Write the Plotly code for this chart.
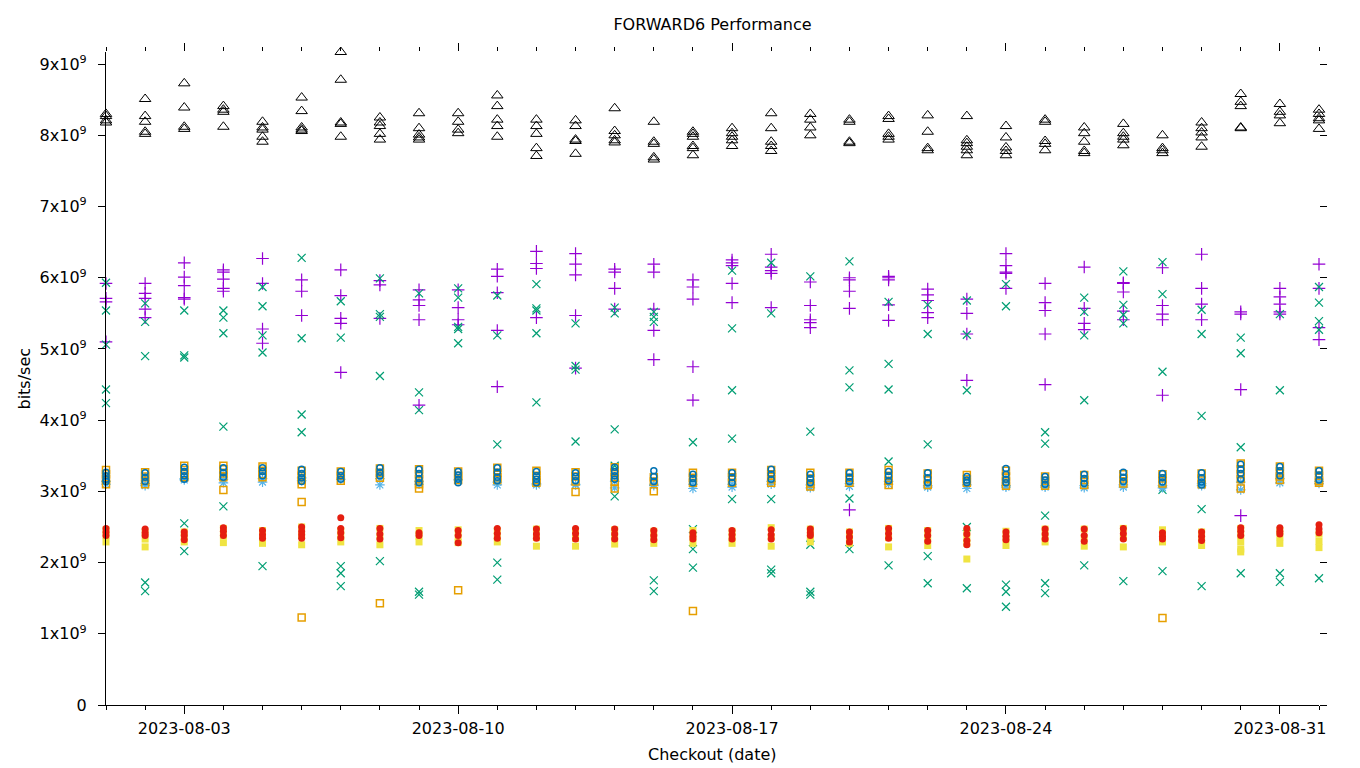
import plotly.graph_objects as go
import pandas as pd

# ---------------- data (values in units of 1e9 bits/sec) ----------------
dates = [d.strftime("%Y-%m-%d") for d in pd.date_range("2023-08-01", "2023-09-01", freq="D")]

purple_plus = [
    [5.92, 5.71, 5.66, 5.10], [5.92, 5.78, 5.71, 5.56, 5.44], [6.21, 6.01, 5.89, 5.72, 5.70],
    [6.11, 6.08, 5.98, 5.85, 5.81], [6.27, 5.92, 5.28, 5.08], [5.97, 5.81, 5.47],
    [6.11, 5.75, 5.43, 5.36, 4.67], [5.96, 5.90, 5.43], [5.83, 5.69, 5.61, 5.41, 4.21],
    [5.83, 5.58, 5.41, 5.34], [6.12, 6.02, 5.79, 5.26, 4.47], [6.37, 6.20, 6.13, 5.44],
    [6.34, 6.19, 6.04, 5.47, 4.73], [6.12, 6.08, 5.85, 5.56], [6.19, 6.08, 5.56, 5.26, 4.85],
    [5.97, 5.87, 5.70, 4.75, 4.28], [6.25, 6.21, 6.17, 5.92, 5.65], [6.33, 6.15, 6.10, 6.06, 5.58],
    [5.94, 5.61, 5.41, 5.37, 5.30], [6.00, 5.97, 5.81, 5.57, 2.74], [6.02, 6.00, 5.97, 5.62, 5.40],
    [5.84, 5.76, 5.68, 5.51, 5.44], [5.70, 5.50, 5.21, 4.56], [6.34, 6.17, 6.08, 6.06, 5.85],
    [5.92, 5.65, 5.54, 5.21, 4.50], [6.15, 5.57, 5.36, 5.27], [5.93, 5.92, 5.80, 5.53, 5.41],
    [6.14, 5.61, 5.49, 5.41, 4.35], [6.33, 5.85, 5.63, 5.41], [5.52, 5.49, 4.43, 2.66],
    [5.85, 5.73, 5.63, 5.52, 5.49], [6.19, 5.85, 5.30, 5.13],
]

teal_x = [
    [5.93, 5.54, 5.06, 4.43, 4.24], [5.64, 5.38, 4.90, 1.72, 1.60], [5.54, 4.91, 4.88, 2.55, 2.16],
    [5.54, 5.44, 5.22, 3.91, 2.79], [5.87, 5.60, 5.19, 4.95, 1.95], [6.28, 5.15, 4.08, 3.83],
    [5.67, 5.16, 1.95, 1.85, 1.67], [5.99, 5.49, 5.45, 4.62, 2.02], [5.78, 4.39, 4.14, 1.59, 1.55],
    [5.85, 5.72, 5.31, 5.28, 5.08], [5.75, 5.19, 3.66, 2.00, 1.76], [5.91, 5.57, 5.54, 5.22, 4.25],
    [5.36, 4.76, 4.71, 3.70], [5.58, 5.50, 3.87, 3.36, 2.93], [5.52, 5.45, 5.38, 1.75, 1.60],
    [3.69, 2.47, 2.19, 1.93], [6.10, 5.29, 4.42, 3.74, 2.89], [6.21, 5.50, 2.89, 1.90, 1.85],
    [6.02, 3.84, 2.25, 1.59, 1.55], [6.23, 4.70, 4.46, 2.90, 2.19], [5.66, 4.79, 4.43, 3.42, 1.96],
    [5.62, 5.21, 3.66, 2.09, 1.71], [5.68, 5.20, 4.42, 2.50, 1.64], [5.91, 5.60, 1.69, 1.59, 1.38],
    [3.83, 3.67, 2.66, 1.71, 1.57], [5.72, 5.52, 5.19, 4.28, 1.96], [6.09, 5.62, 5.48, 5.36, 1.74],
    [6.22, 5.77, 4.68, 3.02, 1.88], [5.55, 5.21, 4.06, 2.75, 1.67], [5.16, 4.94, 3.62, 1.85],
    [5.49, 4.42, 1.85, 1.73], [5.87, 5.65, 5.39, 5.27, 1.78],
]

lightblue_star = [
    [3.14, 3.10], [3.11, 3.08], [3.18, 3.16], [3.17, 3.12], [3.18, 3.13], [3.19, 3.15], [3.17],
    [3.18, 3.09], [3.14, 3.10], [3.16], [3.13, 3.09], [3.11, 3.09], [3.10, 3.09], [3.14, 3.05],
    [3.10, 3.08], [3.10, 3.04], [3.10, 3.06], [3.14, 3.10], [3.09, 3.05], [3.11, 3.07],
    [3.14, 3.10], [3.08, 3.06], [3.09, 3.04], [3.08, 3.06], [3.08, 3.06], [3.08, 3.05],
    [3.09, 3.06], [3.08, 3.05], [3.11, 3.08], [3.13, 3.02], [3.18, 3.12], [3.14, 3.11],
]

orange_square = [
    [3.30, 3.24, 3.17, 3.10], [3.27, 3.21, 3.15, 3.10], [3.36, 3.30, 3.24, 3.20],
    [3.36, 3.31, 3.25, 3.20, 3.02], [3.35, 3.29, 3.24, 3.20], [3.29, 3.22, 3.16, 3.10, 2.85, 1.23],
    [3.28, 3.22, 3.15], [3.32, 3.26, 3.19, 1.43], [3.31, 3.24, 3.17, 3.10, 3.04],
    [3.28, 3.22, 3.16, 1.61], [3.33, 3.26, 3.20, 3.16], [3.29, 3.22, 3.16, 3.12],
    [3.27, 3.21, 3.14, 2.99], [3.34, 3.27, 3.20, 3.13, 3.04], [3.20, 3.14, 3.00],
    [3.26, 3.19, 3.12, 1.32], [3.26, 3.20, 3.12], [3.30, 3.24, 3.17, 3.12],
    [3.26, 3.18, 3.11, 3.07], [3.26, 3.19, 3.12], [3.30, 3.22, 3.15, 3.09],
    [3.25, 3.17, 3.09], [3.23, 3.17, 3.12], [3.29, 3.21, 3.14, 3.08], [3.21, 3.15, 3.08],
    [3.23, 3.16, 3.09], [3.24, 3.18, 3.11], [3.24, 3.18, 3.11, 1.22], [3.25, 3.18, 3.10],
    [3.39, 3.31, 3.24, 3.17, 3.04], [3.35, 3.28, 3.21, 3.16], [3.29, 3.22, 3.15, 3.12],
]

yellow_square = [
    [2.46, 2.38, 2.29], [2.43, 2.33, 2.22], [2.43, 2.36, 2.29], [2.48, 2.38, 2.28],
    [2.45, 2.36, 2.27], [2.50, 2.38, 2.25], [2.45, 2.37, 2.29], [2.48, 2.37, 2.25],
    [2.45, 2.37, 2.29], [2.46, 2.36, 2.28], [2.45, 2.37, 2.29], [2.47, 2.35, 2.23],
    [2.45, 2.34, 2.23], [2.46, 2.36, 2.26], [2.44, 2.35, 2.27], [2.45, 2.36, 2.27],
    [2.44, 2.35, 2.27], [2.49, 2.36, 2.23], [2.47, 2.37, 2.29], [2.43, 2.35, 2.27],
    [2.48, 2.35, 2.22], [2.45, 2.35, 2.24], [2.43, 2.34, 2.27, 2.05], [2.44, 2.34, 2.24],
    [2.47, 2.37, 2.29], [2.47, 2.35, 2.23], [2.48, 2.35, 2.22], [2.46, 2.37, 2.29],
    [2.43, 2.33, 2.24], [2.48, 2.38, 2.29, 2.19, 2.15], [2.45, 2.36, 2.27], [2.40, 2.30, 2.21],
]

blue_circle = [
    [3.27, 3.22, 3.17, 3.14], [3.26, 3.20, 3.14], [3.34, 3.28, 3.22, 3.17], [3.33, 3.26, 3.20],
    [3.33, 3.28, 3.22], [3.31, 3.25, 3.19, 3.14], [3.28, 3.22, 3.17], [3.33, 3.27, 3.22],
    [3.31, 3.25, 3.18, 3.12], [3.28, 3.23, 3.17, 3.12], [3.33, 3.27, 3.20, 3.15],
    [3.28, 3.22, 3.17, 3.12], [3.26, 3.21, 3.15], [3.34, 3.28, 3.22, 3.17], [3.29, 3.21, 3.14],
    [3.24, 3.18, 3.12], [3.26, 3.20, 3.12], [3.31, 3.24, 3.17], [3.24, 3.18, 3.12],
    [3.26, 3.20, 3.14], [3.28, 3.22, 3.15], [3.26, 3.19, 3.12], [3.21, 3.16, 3.12],
    [3.32, 3.24, 3.17, 3.12], [3.21, 3.16, 3.10], [3.24, 3.18, 3.11], [3.27, 3.20, 3.14],
    [3.25, 3.19, 3.13], [3.26, 3.19, 3.13, 3.09], [3.38, 3.31, 3.25, 3.17], [3.35, 3.29, 3.22],
    [3.29, 3.23, 3.16],
]

red_circle = [
    [2.48, 2.43, 2.38], [2.47, 2.42, 2.38], [2.43, 2.38, 2.32], [2.49, 2.44, 2.38],
    [2.45, 2.39, 2.34], [2.50, 2.44, 2.39, 2.34], [2.63, 2.48, 2.42, 2.35], [2.48, 2.40, 2.33],
    [2.42, 2.38], [2.45, 2.38, 2.28], [2.48, 2.41, 2.34], [2.47, 2.40, 2.34], [2.48, 2.41, 2.33],
    [2.47, 2.40, 2.33], [2.45, 2.38, 2.32], [2.42, 2.37, 2.33], [2.45, 2.39, 2.33],
    [2.46, 2.39, 2.33], [2.47, 2.42, 2.38], [2.43, 2.36, 2.29], [2.48, 2.41, 2.34],
    [2.45, 2.38, 2.30], [2.48, 2.40, 2.31, 2.25], [2.43, 2.37, 2.32], [2.47, 2.40, 2.33],
    [2.47, 2.38, 2.30], [2.48, 2.41, 2.33], [2.42, 2.37, 2.33], [2.43, 2.37, 2.31],
    [2.49, 2.44, 2.38], [2.49, 2.44, 2.40], [2.53, 2.47, 2.42],
]

black_triangle = [
    [8.30, 8.27, 8.21, 8.18], [8.51, 8.27, 8.19, 8.05, 8.02], [8.73, 8.39, 8.12, 8.09],
    [8.41, 8.36, 8.33, 8.12], [8.19, 8.11, 8.08, 7.98, 7.91], [8.53, 8.34, 8.11, 8.08, 8.06],
    [9.17, 8.78, 8.18, 8.16, 7.98], [8.25, 8.18, 8.13, 8.02, 7.94], [8.31, 8.10, 8.01, 7.97, 7.94],
    [8.31, 8.19, 8.08, 8.03], [8.56, 8.41, 8.22, 8.13, 7.98], [8.22, 8.13, 8.02, 7.82, 7.71],
    [8.21, 8.13, 7.94, 7.92, 7.74], [8.38, 8.06, 8.00, 7.93, 7.90], [8.19, 7.91, 7.88, 7.69, 7.66],
    [8.05, 8.02, 7.98, 7.85, 7.82, 7.72], [8.10, 8.03, 7.98, 7.93, 7.85],
    [8.31, 8.10, 7.91, 7.85, 7.78], [8.30, 8.22, 8.11, 8.00], [8.22, 8.19, 7.91, 7.89],
    [8.27, 8.23, 8.02, 7.98, 7.94], [8.28, 8.05, 7.82, 7.79],
    [8.27, 7.93, 7.89, 7.84, 7.79, 7.72], [8.13, 7.97, 7.83, 7.78, 7.72],
    [8.22, 8.19, 7.92, 7.88, 7.79], [8.11, 8.03, 7.91, 7.78, 7.75], [8.16, 8.03, 7.98, 7.94, 7.86],
    [8.00, 7.82, 7.79, 7.75], [8.18, 8.10, 8.04, 7.97, 7.84], [8.58, 8.47, 8.41, 8.11, 8.10],
    [8.44, 8.33, 8.28, 8.17], [8.36, 8.30, 8.24, 8.21, 8.09],
]

y_tick_vals = [0, 1, 2, 3, 4, 5, 6, 7, 8, 9]
y_tick_text = ["0"] + [f"{v}x10<sup>9</sup>" for v in y_tick_vals[1:]]
x_tick_vals = ["2023-08-03", "2023-08-10", "2023-08-17", "2023-08-24", "2023-08-31"]
x_tick_text = x_tick_vals

# ---------------- figure ----------------
def flatten(series):
    xs, ys = [], []
    for d, vals in zip(dates, series):
        for v in vals:
            xs.append(d)
            ys.append(v)
    return xs, ys

styles = [
    (purple_plus, dict(symbol="cross-thin-open", color="#9400D3", size=9, line=dict(width=1.2, color="#9400D3"))),
    (teal_x, dict(symbol="x-thin-open", color="#009E73", size=8, line=dict(width=1.2, color="#009E73"))),
    (lightblue_star, dict(symbol="asterisk-open", color="#56B4E9", size=8, line=dict(width=1.2, color="#56B4E9"))),
    (orange_square, dict(symbol="square-open", color="#E69F00", size=7, line=dict(width=1.5, color="#E69F00"))),
    (yellow_square, dict(symbol="square", color="#F0E442", size=7, line=dict(width=0))),
    (blue_circle, dict(symbol="circle-open", color="#0072B2", size=6, line=dict(width=1.5, color="#0072B2"))),
    (red_circle, dict(symbol="circle", color="#E51E10", size=7, line=dict(width=0))),
    (black_triangle, dict(symbol="triangle-up-open", color="black", size=10, line=dict(width=1, color="black"))),
]

fig = go.Figure()
for series, marker in styles:
    xs, ys = flatten(series)
    fig.add_trace(go.Scatter(x=xs, y=ys, mode="markers", marker=marker,
                             showlegend=False, cliponaxis=False, hoverinfo="skip"))

# empty trace so that the mirrored (top / right) tick axes are rendered
fig.add_trace(go.Scatter(x=[], y=[], xaxis="x2", yaxis="y2", mode="markers",
                         showlegend=False, hoverinfo="skip"))

font = dict(family="DejaVu Sans", size=16, color="black")
x_range = [dates[0], dates[-1]]
y_range = [0, 9.17]

fig.update_layout(
    width=1360, height=768,
    margin=dict(l=106, r=41, t=52, b=63),
    paper_bgcolor="white", plot_bgcolor="white",
    font=font,
    title=dict(text="FORWARD6 Performance", x=0.5, xref="paper", y=1 - 24 / 768,
               yanchor="middle", xanchor="center", font=dict(family="DejaVu Sans", size=16)),
    xaxis=dict(type="date", range=x_range, showgrid=False, zeroline=False,
               showline=True, linecolor="black", linewidth=1.2,
               ticks="outside", ticklen=8, tickwidth=1, tickcolor="black",
               tickmode="array", tickvals=x_tick_vals, ticktext=x_tick_text,
               ticklabelstandoff=1,
               minor=dict(tickmode="array", tickvals=dates, ticks="outside", ticklen=4,
                          tickcolor="black", tickwidth=1, showgrid=False)),
    yaxis=dict(range=y_range, showgrid=False, zeroline=False,
               showline=True, linecolor="black", linewidth=1.2,
               ticks="outside", ticklen=7, tickwidth=1, tickcolor="black",
               tickmode="array", tickvals=y_tick_vals, ticktext=y_tick_text,
               ticklabelstandoff=8),
    xaxis2=dict(type="date", overlaying="x", side="top", anchor="y2", range=x_range,
                showgrid=False, zeroline=False, showline=False, showticklabels=False,
                ticks="outside", ticklen=8, tickwidth=1, tickcolor="black",
                tickmode="array", tickvals=x_tick_vals,
                minor=dict(tickmode="array", tickvals=dates, ticks="outside", ticklen=4,
                           tickcolor="black", tickwidth=1, showgrid=False)),
    yaxis2=dict(overlaying="y", side="right", anchor="x2", range=y_range,
                showgrid=False, zeroline=False, showline=False, showticklabels=False,
                ticks="outside", ticklen=7, tickwidth=1, tickcolor="black",
                tickmode="array", tickvals=y_tick_vals),
    annotations=[
        dict(text="Checkout (date)", xref="paper", yref="paper", x=0.5, y=-(754 - 705) / 653,
             xanchor="center", yanchor="middle", showarrow=False, font=font),
        dict(text="bits/sec", xref="paper", yref="paper", x=(24 - 106) / 1213, y=0.5,
             xanchor="center", yanchor="middle", showarrow=False, textangle=-90, font=font),
    ],
)

fig.write_html("out.html", config={"displayModeBar": False},
               post_script="document.body.style.margin='0';")
